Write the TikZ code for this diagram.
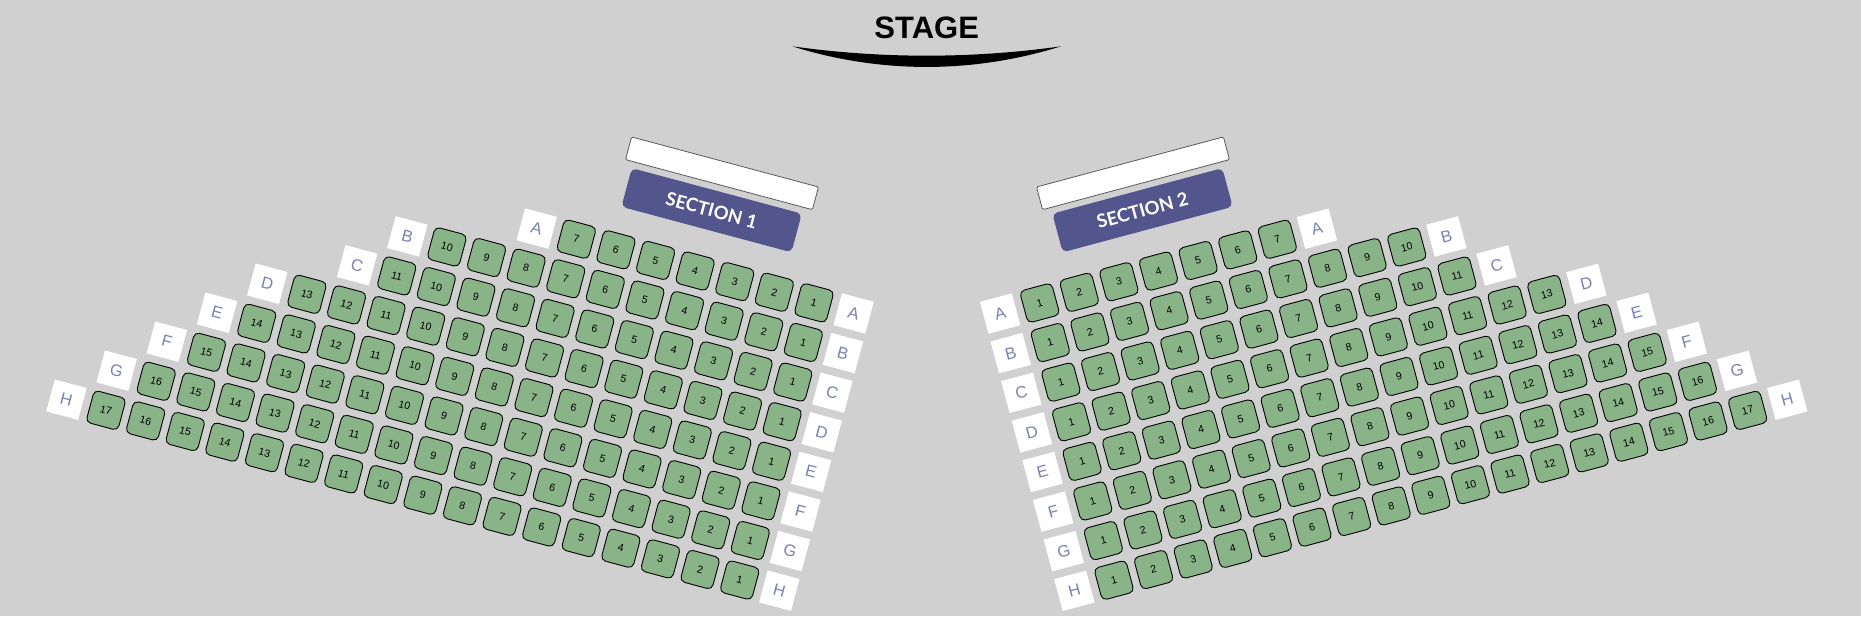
\documentclass[tikz,border=0pt]{standalone}
\usepackage{fontspec}
\setmainfont{Liberation Sans}
\newfontfamily\seclab{Lato}
\definecolor{hall}{HTML}{D0D0D0}
\definecolor{seatgreen}{HTML}{88B488}
\definecolor{secblue}{HTML}{52568C}
\definecolor{rowblue}{HTML}{7A80B8}
\tikzset{
  seat/.style={draw=black,line width=0.9pt,fill=seatgreen,rounded corners=5pt,minimum size=33pt,inner sep=0pt,font=\fontsize{10.5}{12}\selectfont},
  rowlab/.style={fill=white,minimum size=33pt,inner sep=0pt,text=rowblue,font=\fontsize{16.5}{18}\selectfont},
  secbox/.style={fill=secblue,rounded corners=5pt,minimum width=176pt,minimum height=40pt,inner sep=0pt,text=white,font=\seclab\fontsize{18.5}{20}\selectfont\bfseries},
  blankbox/.style={draw=black!65,line width=0.8pt,fill=white,rounded corners=1.5pt,minimum width=193.5pt,minimum height=23.5pt,inner sep=0pt}
}
\begin{document}
\begin{tikzpicture}[x=1pt,y=-1pt]
\fill[hall] (0,0) rectangle (1861,616);
\useasboundingbox (0,0) rectangle (1861,616);
% stage
\node (stage) at (926.7,27.4) {\fontsize{31}{33}\selectfont\bfseries STAGE};
\coordinate (stageL) at (792.3,46.3);
\coordinate (stageR) at (1061,46.3);
\fill (stageL) .. controls (880,58.8) and (973,58.8) .. (stageR) .. controls (973,73.8) and (880,73.8) .. (stageL);
% section 1
\node[blankbox,rotate=-15] (b1) at (722,173.3) {};
\node[secbox,rotate=-15] (s1) at (711.6,210.2) {SECTION 1};
\begin{scope}[shift={(779.3,590.7)},rotate=-15,transform shape]
\foreach \r/\y/\n in {A/7/7,B/6/10,C/5/11,D/4/13,E/3/14,F/2/15,G/1/16,H/0/17}{
  \pgfmathtruncatemacro{\e}{\n+1}
  \node[rowlab] (l\r0) at (0,-41*\y) {\r};
  \foreach \i in {1,...,\n}
    \node[seat] (l\r\i) at (-41*\i,-41*\y) {\i};
  \node[rowlab] (l\r\e) at (-41*\e,-41*\y) {\r};
}
\end{scope}
% section 2
\node[blankbox,rotate=15] (b2) at (1133,173.3) {};
\node[secbox,rotate=15] (s2) at (1142.5,210.2) {SECTION 2};
\begin{scope}[shift={(1074.4,590.8)},rotate=15,transform shape]
\foreach \r/\y/\n in {A/7/7,B/6/10,C/5/11,D/4/13,E/3/14,F/2/15,G/1/16,H/0/17}{
  \pgfmathtruncatemacro{\e}{\n+1}
  \node[rowlab] (r\r0) at (0,-41*\y) {\r};
  \foreach \i in {1,...,\n}
    \node[seat] (r\r\i) at (41*\i,-41*\y) {\i};
  \node[rowlab] (r\r\e) at (41*\e,-41*\y) {\r};
}
\end{scope}
\end{tikzpicture}
\end{document}
